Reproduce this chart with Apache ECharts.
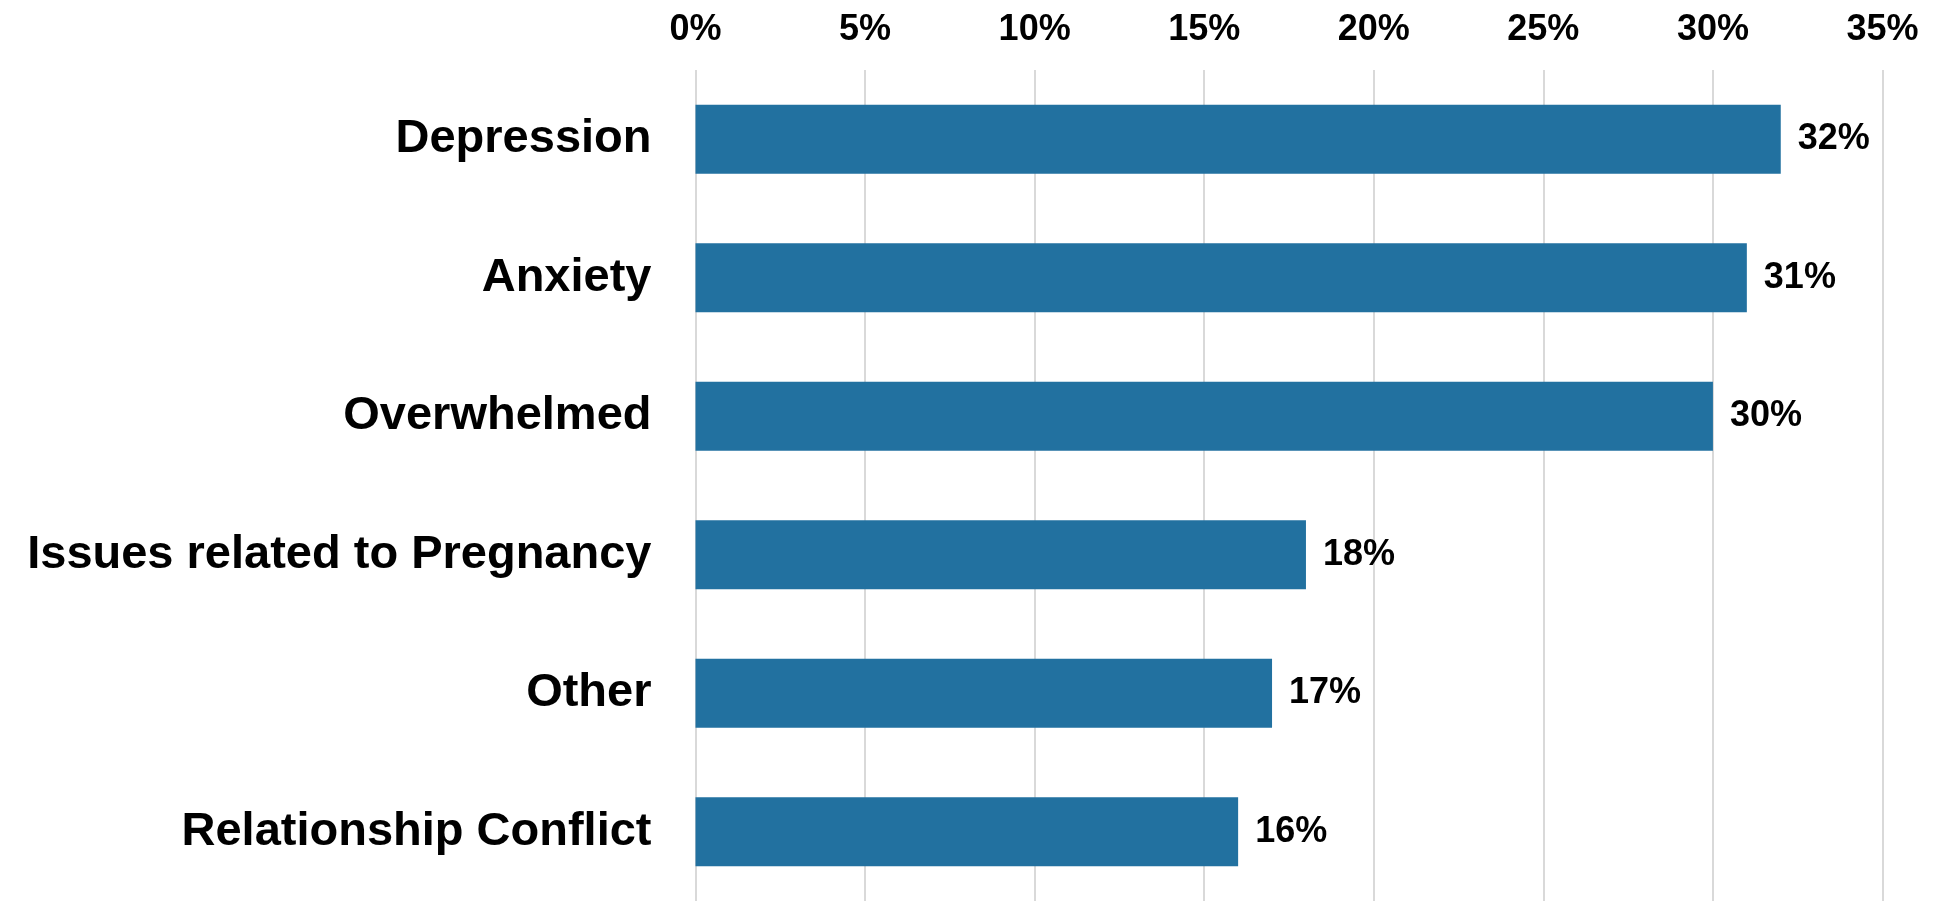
<!DOCTYPE html>
<html>
<head>
<meta charset="utf-8">
<script src="https://cdn.jsdelivr.net/npm/echarts@6/dist/echarts.min.js"></script>
<style>
html,body{margin:0;padding:0;background:#fff;}
#chart{width:1939px;height:901px;}
</style>
</head>
<body>
<div id="chart"></div>
<script>
const categories = ["Depression", "Anxiety", "Overwhelmed", "Issues related to Pregnancy", "Other", "Relationship Conflict"];
const values = [32, 31, 30, 18, 17, 16];
const tickLabels = ["0%", "5%", "10%", "15%", "20%", "25%", "30%", "35%"];

const FONT = '"Liberation Sans", Arial, Helvetica, sans-serif';
const chart = echarts.init(document.getElementById('chart'));
chart.setOption({
  animation: false,
  backgroundColor: '#ffffff',
  grid: { left: 695.5, right: 56.5, top: 70, height: 834, containLabel: false },
  xAxis: {
    type: 'value', position: 'top', min: 0, max: 35, interval: 5,
    axisLine: { show: false }, axisTick: { show: false },
    splitLine: { show: true, lineStyle: { color: '#d9d9d9', width: 2 } },
    axisLabel: {
      margin: 22, color: '#000', fontSize: 36, fontWeight: 'bold',
      fontFamily: FONT,
      formatter: function (v) { return tickLabels[Math.round(v / 5)]; }
    }
  },
  yAxis: {
    type: 'category', data: categories, inverse: true,
    axisLine: { show: false }, axisTick: { show: false },
    axisLabel: {
      margin: 44, color: '#000', fontSize: 47, fontWeight: 'bold',
      fontFamily: FONT
    }
  },
  series: [{
    type: 'bar', data: values, barWidth: 69,
    itemStyle: { color: '#2271a0' },
    label: {
      show: true, position: 'right', distance: 17, color: '#000',
      fontSize: 36, fontWeight: 'bold',
      fontFamily: FONT,
      formatter: function (p) { return p.value + '%'; }
    }
  }]
});
</script>
</body>
</html>
